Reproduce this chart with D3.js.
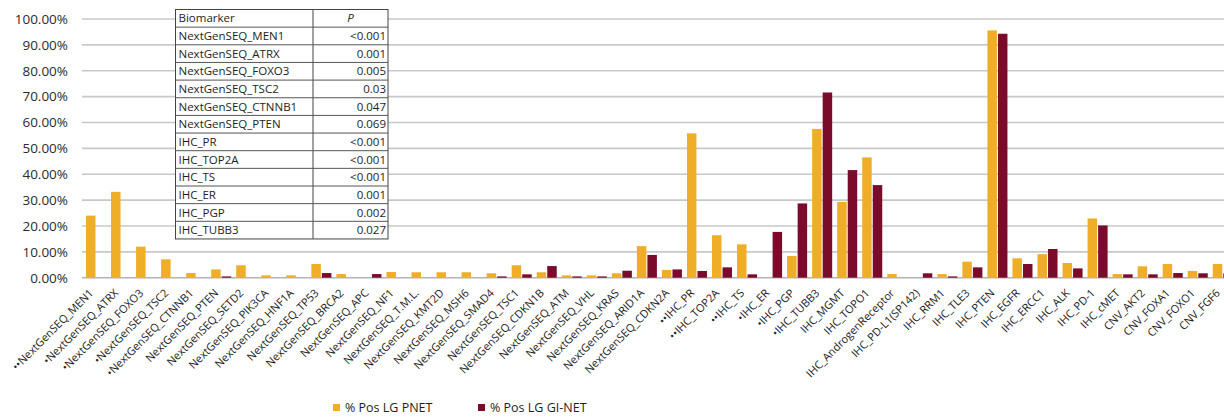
<!DOCTYPE html>
<html>
<head>
<meta charset="utf-8">
<script src="https://cdn.jsdelivr.net/npm/d3@7/dist/d3.min.js"></script>
<style>
  html, body { margin: 0; padding: 0; background: #fff; }
  svg { display: block; font-family: "Open Sans", "Noto Sans", sans-serif; }
</style>
</head>
<body>
<svg id="chart" width="1224" height="418"></svg>
<script>
// Biomarker categories (x axis)
const categories = [
  "••NextGenSEQ_MEN1", "•NextGenSEQ_ATRX", "•NextGenSEQ_FOXO3", "•NextGenSEQ_TSC2",
  "•NextGenSEQ_CTNNB1", "NextGenSEQ_PTEN", "NextGenSEQ_SETD2", "NextGenSEQ_PIK3CA",
  "NextGenSEQ_HNF1A", "NextGenSEQ_TP53", "NextGenSEQ_BRCA2", "NextGenSEQ_APC",
  "NextGenSEQ_NF1", "NextGenSEQ_T.M.L.", "NextGenSEQ_KMT2D", "NextGenSEQ_MSH6",
  "NextGenSEQ_SMAD4", "NextGenSEQ_TSC1", "NextGenSEQ_CDKN1B", "NextGenSEQ_ATM",
  "NextGenSEQ_VHL", "NextGenSEQ_KRAS", "NextGenSEQ_ARID1A", "NextGenSEQ_CDKN2A",
  "••IHC_PR", "••IHC_TOP2A", "••IHC_TS", "•IHC_ER", "•IHC_PGP", "•IHC_TUBB3",
  "IHC_MGMT", "IHC_TOPO1", "IHC_AndrogenReceptor", "IHC_PD-L1(SP142)", "IHC_RRM1",
  "IHC_TLE3", "IHC_PTEN", "IHC_EGFR", "IHC_ERCC1", "IHC_ALK", "IHC_PD-1", "IHC_cMET",
  "CNV_AKT2", "CNV_FOXA1", "CNV_FOXO1", "CNV_FGF6"
];

// Percent positive, low-grade PNET
const pnetValues = [
  24.0, 33.2, 12.0, 7.1, 1.8, 3.2, 4.8, 0.9, 0.9, 5.3, 1.4, 0.0,
  2.2, 2.1, 2.1, 2.1, 1.7, 4.8, 2.1, 0.9, 0.9, 1.7, 12.2, 3.0,
  55.8, 16.4, 12.9, 0.0, 8.4, 57.5, 29.3, 46.5, 1.4, 0.0, 1.4, 6.2,
  95.6, 7.5, 9.1, 5.7, 22.9, 1.4, 4.4, 5.3, 2.6, 5.3
];

// Percent positive, low-grade GI-NET
const ginetValues = [
  0.0, 0.0, 0.0, 0.0, 0.0, 0.5, 0.0, 0.0, 0.0, 1.8, 0.0, 1.4,
  0.0, 0.0, 0.0, 0.0, 0.5, 1.3, 4.5, 0.5, 0.5, 2.7, 8.8, 3.2,
  2.6, 4.0, 1.3, 17.7, 28.7, 71.6, 41.6, 35.8, 0.0, 1.7, 0.5, 4.0,
  94.3, 5.3, 11.1, 3.6, 20.2, 1.3, 1.3, 1.8, 1.7, 1.7
];

const seriesNames = ["% Pos LG PNET", "% Pos LG GI-NET"];
const seriesColors = ["#F0AD27", "#7A0B2B"];

// Y axis ticks (percent)
const yTicks = [0, 10, 20, 30, 40, 50, 60, 70, 80, 90, 100];

// Inset table of p-values
const tableHeader = ["Biomarker", "P"];
const tableBiomarkers = [
  "NextGenSEQ_MEN1", "NextGenSEQ_ATRX", "NextGenSEQ_FOXO3", "NextGenSEQ_TSC2",
  "NextGenSEQ_CTNNB1", "NextGenSEQ_PTEN", "IHC_PR", "IHC_TOP2A", "IHC_TS",
  "IHC_ER", "IHC_PGP", "IHC_TUBB3"
];
const tablePValues = [
  "<0.001", "0.001", "0.005", "0.03", "0.047", "0.069",
  "<0.001", "<0.001", "<0.001", "0.001", "0.002", "0.027"
];

const svg = d3.select("#chart");

const plotLeft = 83.5, plotRight = 1235.3, plotTop = 19, plotBottom = 277.7;

const x = d3.scaleBand()
  .domain(categories)
  .range([plotLeft, plotRight])
  .paddingInner(0.2)
  .paddingOuter(0.1);

const xs = d3.scaleBand()
  .domain(seriesNames)
  .range([0, x.bandwidth()])
  .paddingInner(0.1);

const y = d3.scaleLinear().domain([0, 100]).range([plotBottom, plotTop]);

// Horizontal gridlines
svg.append("g")
  .selectAll("line")
  .data(yTicks)
  .join("line")
  .attr("x1", 82).attr("x2", 1224)
  .attr("y1", d => y(d)).attr("y2", d => y(d))
  .attr("stroke", d => d === 0 ? "#b4b4b4" : "#c8c8c8")
  .attr("stroke-width", 1.6);

// Y axis labels
const yAxis = d3.axisLeft(y)
  .tickValues(yTicks)
  .tickSize(0)
  .tickPadding(0)
  .tickFormat(d => d.toFixed(2) + "%");

const yg = svg.append("g").attr("transform", "translate(68,0)").call(yAxis);
yg.select(".domain").remove();
yg.selectAll("text")
  .attr("font-size", 13.5)
  .attr("fill", "#2b2b2b")
  .attr("font-family", "'Open Sans', sans-serif");

// Bars
const barData = categories.map((c, i) => ({
  cat: c,
  values: [pnetValues[i], ginetValues[i]]
}));

const groups = svg.append("g")
  .selectAll("g")
  .data(barData)
  .join("g")
  .attr("transform", d => `translate(${x(d.cat)},0)`);

groups.selectAll("rect")
  .data(d => d.values.map((v, k) => ({ v, k })).filter(e => e.v > 0))
  .join("rect")
  .attr("x", e => xs(seriesNames[e.k]))
  .attr("width", xs.bandwidth())
  .attr("y", e => y(e.v))
  .attr("height", e => y(0) - y(e.v))
  .attr("fill", e => seriesColors[e.k]);

// X axis labels, rotated
const xAxis = d3.axisBottom(x).tickSize(0).tickPadding(0);
const xg = svg.append("g").attr("transform", `translate(0,${plotBottom})`).call(xAxis);
xg.select(".domain").remove();
xg.selectAll(".tick text")
  .attr("font-size", 11)
  .attr("fill", "#222")
  .attr("font-family", "'Open Sans', sans-serif")
  .attr("text-anchor", "end")
  .attr("dy", "0")
  .attr("y", 0)
  .attr("transform", "translate(-2,16) rotate(-45)");

// Inset p-value table
const tLeft = 175.5, tRight = 388, tDiv = 313, tTop = 9.5, rowH = 17.65;
const nRows = tableBiomarkers.length + 1;
const table = svg.append("g");

table.append("rect")
  .attr("x", tLeft).attr("y", tTop)
  .attr("width", tRight - tLeft).attr("height", rowH * nRows)
  .attr("fill", "#fff").attr("stroke", "#444").attr("stroke-width", 1);

table.append("line")
  .attr("x1", tDiv).attr("x2", tDiv)
  .attr("y1", tTop).attr("y2", tTop + rowH * nRows)
  .attr("stroke", "#444").attr("stroke-width", 1);

table.selectAll("line.row")
  .data(d3.range(1, nRows))
  .join("line")
  .attr("class", "row")
  .attr("x1", tLeft).attr("x2", tRight)
  .attr("y1", i => tTop + i * rowH).attr("y2", i => tTop + i * rowH)
  .attr("stroke", "#555").attr("stroke-width", 1);

table.append("text")
  .attr("x", tLeft + 3).attr("y", tTop + rowH / 2)
  .attr("dy", "0.35em")
  .attr("font-size", 11.5).attr("fill", "#1e1e1e")
  .text(tableHeader[0]);

table.append("text")
  .attr("x", (tDiv + tRight) / 2).attr("y", tTop + rowH / 2)
  .attr("dy", "0.35em")
  .attr("text-anchor", "middle")
  .attr("font-size", 11.5).attr("font-style", "italic").attr("fill", "#1e1e1e")
  .text(tableHeader[1]);

table.selectAll("text.name")
  .data(tableBiomarkers)
  .join("text")
  .attr("class", "name")
  .attr("x", tLeft + 3)
  .attr("y", (d, i) => tTop + (i + 1.5) * rowH)
  .attr("dy", "0.35em")
  .attr("font-size", 11.5).attr("fill", "#1e1e1e")
  .text(d => d);

table.selectAll("text.pval")
  .data(tablePValues)
  .join("text")
  .attr("class", "pval")
  .attr("x", tRight - 2)
  .attr("y", (d, i) => tTop + (i + 1.5) * rowH)
  .attr("dy", "0.35em")
  .attr("text-anchor", "end")
  .attr("font-size", 11.5).attr("fill", "#1e1e1e")
  .text(d => d);

// Legend
const legendX = [333, 478];
const legend = svg.append("g")
  .selectAll("g")
  .data(seriesNames)
  .join("g")
  .attr("transform", (d, i) => `translate(${legendX[i]},408)`);

legend.append("rect")
  .attr("x", 0).attr("y", -4)
  .attr("width", 7).attr("height", 7)
  .attr("fill", (d, i) => seriesColors[i]);

legend.append("text")
  .attr("x", 12).attr("y", 0)
  .attr("dy", "0.35em")
  .attr("font-size", 12.5).attr("fill", "#1e1e1e")
  .text(d => d);
</script>
</body>
</html>
